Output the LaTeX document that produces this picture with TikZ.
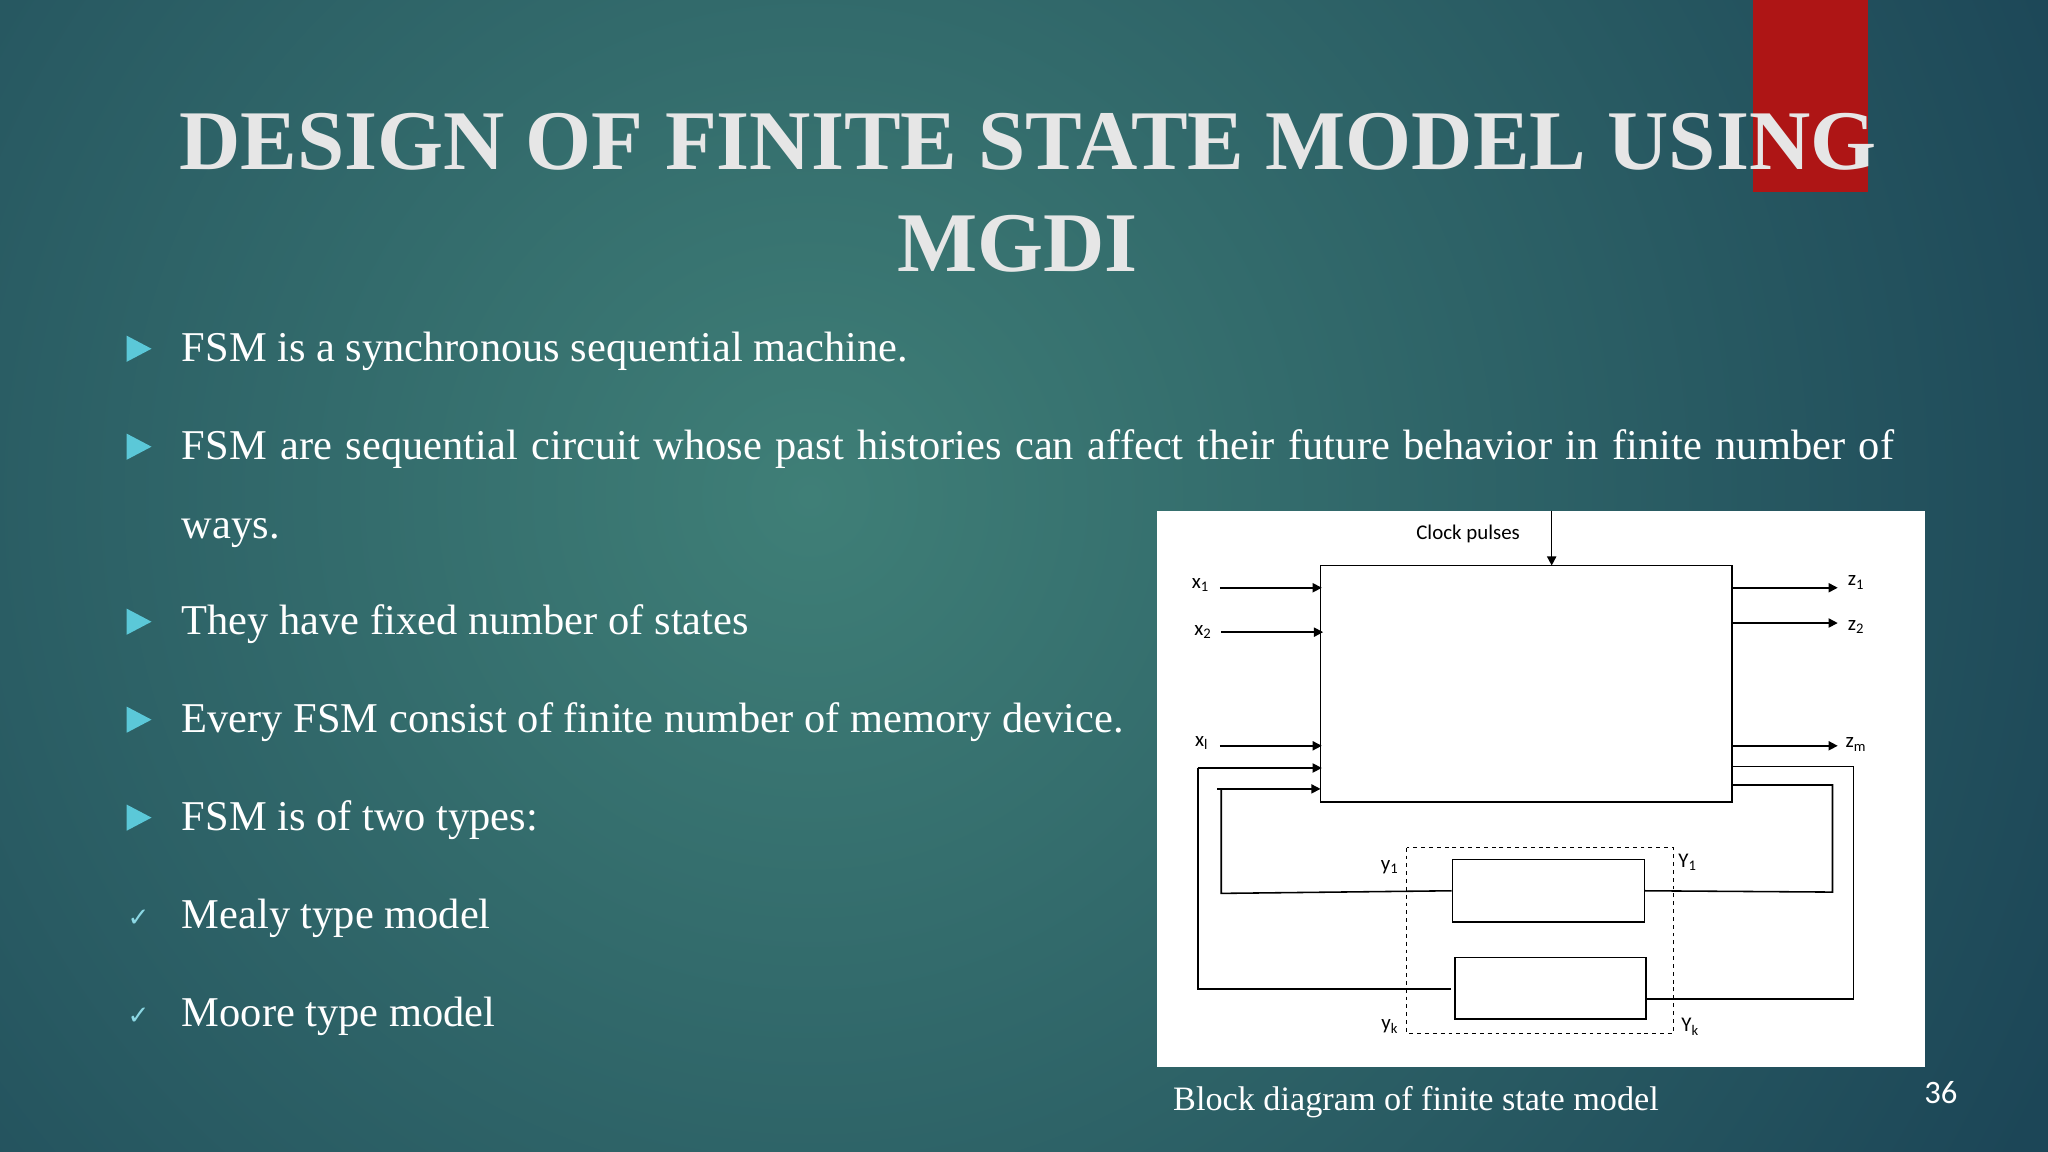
\documentclass[tikz,border=0pt]{standalone}
\usepackage{fontspec}
\setmainfont{Liberation Serif}
\newfontfamily\lab{Carlito}
\newfontfamily\dvs{DejaVu Sans}
\usetikzlibrary{arrows.meta}
\definecolor{bgdark}{HTML}{1C4657}
\definecolor{bglight}{HTML}{3F7F77}
\definecolor{redbar}{HTML}{AE1515}
\definecolor{titlec}{HTML}{E6E6E6}
\definecolor{bullc}{HTML}{5BC8D8}
\tikzset{
  body/.style={anchor=base west,text=white,inner sep=0,font=\fontsize{32.5}{36}\selectfont},
  bul/.style={fill=bullc,draw=none},
  chk/.style={anchor=base,text=bullc!70!white,inner sep=0,font=\dvs\fontsize{20}{24}\selectfont},
  wire/.style={draw=black,line width=1.2pt},
  arr/.style={wire,-{Triangle[length=7pt,width=7pt]}},
  lbl/.style={inner sep=0,text=black,font=\lab\fontsize{16}{18}\selectfont},
  blk/.style={draw=black,line width=1.3pt,fill=white}
}
\begin{document}
\begin{tikzpicture}[x=1pt,y=-1pt]
\useasboundingbox (0,0) rectangle (1568,882);
\fill[bgdark] (0,0) rectangle (1568,882);
\begin{scope}
\clip (0,0) rectangle (1568,882);
\shade[inner color=bglight,outer color=bgdark] (620,380) circle (1050);
\end{scope}
\fill[redbar] (1342,0) rectangle (1430,147);
% title
\node[anchor=base,text=titlec,inner sep=0,font=\bfseries\fontsize{65}{80}\selectfont] (t1) at (787,130) {DESIGN OF FINITE STATE MODEL USING};
\node[anchor=base,text=titlec,inner sep=0,font=\bfseries\fontsize{65}{80}\selectfont] (t2) at (779,208) {MGDI};
% bullets
\foreach \y in {267,342,476,551,626}{
  \fill[bul] (97,\y-10) -- (116,\y) -- (97,\y+10) -- cycle;
}
\node[body] (b1) at (139,277) {FSM is a synchronous sequential machine.};
\node[body] (b2) at (139,352) {\makebox[1311pt][s]{FSM are sequential circuit whose past histories can affect their future behavior in finite number of}};
\node[body] (b2b) at (139,412) {ways.};
\node[body] (b3) at (139,486) {They have fixed number of states};
\node[body] (b4) at (139,561) {Every FSM consist of finite number of memory device.};
\node[body] (b5) at (139,636) {FSM is of two types:};
\node[chk] (c1) at (106,709) {✓};
\node[chk] (c2) at (106,784) {✓};
\node[body] (b6) at (139,711) {Mealy type model};
\node[body] (b7) at (139,786) {Moore type model};
% panel
\fill[white] (886,391) rectangle (1474,817);
\node[anchor=base west,text=white,inner sep=0,font=\fontsize{26.2}{30}\selectfont] (cap) at (898,850) {Block diagram of finite state model};
\node[anchor=base,text=white,inner sep=0,font=\lab\fontsize{25}{30}\selectfont] (pg) at (1486,845) {36};
% diagram
\draw[blk] (1011,433) rectangle (1326,614);
\coordinate (mtop) at (1188,433);
\coordinate (ctop) at (1188,391);
\draw[arr] (ctop) -- (mtop);
\node[lbl] (clk) at (1124,409) {Clock pulses};
% inputs
\node[lbl] (x1) at (919,448) {x\textsubscript{1}};
\node[lbl] (x2) at (921,484) {x\textsubscript{2}};
\node[lbl] (xl) at (920,569) {x\textsubscript{l}};
\draw[arr] (934,450) -- (1012,450);
\draw[arr] (935,484) -- (1013,484);
\draw[arr] (934,571) -- (1012,571);
\draw[arr] (917,588) -- (1012,588);
\draw[arr] (932,604) -- (1011,604);
% outputs
\node[lbl] (z1) at (1421,446) {z\textsubscript{1}};
\node[lbl] (z2) at (1421,480) {z\textsubscript{2}};
\node[lbl] (zm) at (1421,570) {z\textsubscript{m}};
\draw[arr] (1326,450) -- (1407,450);
\draw[arr] (1326,477) -- (1407,477);
\draw[arr] (1326,571) -- (1407,571);
% memory
\draw[black,dashed,line width=0.9pt] (1077,649) rectangle (1281,791);
\node[blk,minimum width=147pt,minimum height=48pt,inner sep=0,line width=1.2pt] (m1) at (1185.5,682) {};
\node[blk,minimum width=146pt,minimum height=47pt,inner sep=0,line width=1.2pt] (m2) at (1187,756.5) {};
\node[lbl] (y1) at (1064,664) {y\textsubscript{1}};
\node[lbl] (Y1) at (1292,660) {Y\textsubscript{1}};
\node[lbl] (yk) at (1064,786) {y\textsubscript{k}};
\node[lbl] (Yk) at (1294,786) {Y\textsubscript{k}};
% feedback
\draw[wire] (1326,601) -- (1403,601) -- (1403,683) -- (m1.east);
\draw[wire] (1326,587) -- (1419,587) -- (1419,765) -- (1260,765);
\draw[wire] (m1.west) -- (935,684) -- (935,604);
\draw[wire] (1111,757) -- (917,757) -- (917,588);
\end{tikzpicture}
\end{document}
